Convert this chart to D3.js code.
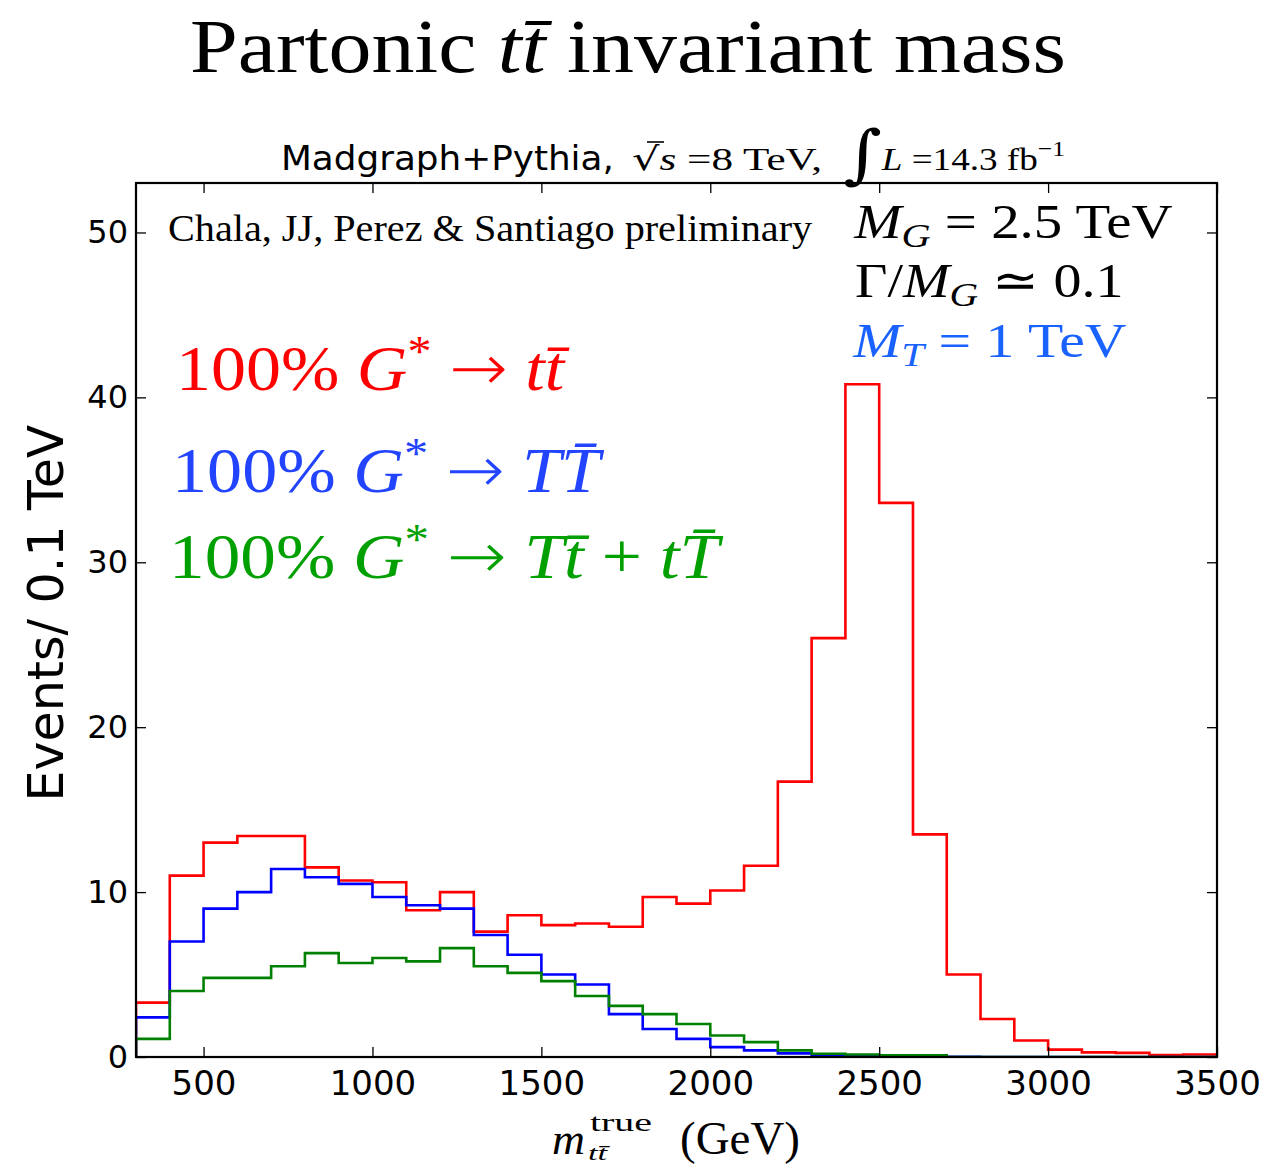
<!DOCTYPE html>
<html><head><meta charset="utf-8">
<script src="https://cdn.jsdelivr.net/npm/d3@7"></script>
<style>html,body{margin:0;padding:0;background:#fff;}svg{display:block;}</style>
</head><body>
<script>
// ---------- data ----------
const binEdges = [300,400,500,600,700,800,900,1000,1100,1200,1300,1400,1500,1600,1700,1800,1900,2000,2100,2200,2300,2400,2500,2600,2700,2800,2900,3000,3100,3200,3300,3400,3500];
const ttbar  = [3.3,11.0,13.0,13.4,13.4,11.5,10.7,10.6,8.9,10.0,7.6,8.6,8.0,8.1,7.9,9.7,9.3,10.1,11.6,16.7,25.4,40.8,33.6,13.5,5.0,2.3,1.0,0.45,0.28,0.25,0.12,0.15];
const TTbar  = [2.4,7.0,9.0,10.0,11.4,10.9,10.5,9.7,9.2,9.0,7.4,6.2,5.0,4.4,2.6,1.7,1.1,0.6,0.4,0.22,0.12,0.06,0.04,0.02,0.01,0,0,0,0,0,0,0];
const Ttmix  = [1.1,4.0,4.8,4.8,5.5,6.3,5.7,6.0,5.8,6.6,5.5,5.1,4.6,3.7,3.1,2.6,2.0,1.3,0.9,0.4,0.2,0.15,0.1,0.1,0,0,0,0,0,0,0,0];
const xTicks = [500,1000,1500,2000,2500,3000,3500];
const yTicks = [0,10,20,30,40,50];
const seriesColors = ["#ff0000","#0000ff","#008000"];

// ---------- setup ----------
const W = 1267, H = 1166;
const L = 136, R = 1217, T = 183, B = 1057;
const svg = d3.select("body").append("svg").attr("width", W).attr("height", H);
const x = d3.scaleLinear().domain([300,3500]).range([L,R]);
const y = d3.scaleLinear().domain([0,53]).range([B,T]);

svg.append("clipPath").attr("id","clip").append("rect")
  .attr("x",L).attr("y",T).attr("width",R-L).attr("height",B-T);

// ---------- histograms ----------
const line = d3.line().x(d=>x(d[0])).y(d=>y(d[1])).curve(d3.curveStepAfter);
function pts(vals){
  const p = [[binEdges[0],0]];
  vals.forEach((v,i)=>p.push([binEdges[i],v]));
  p.push([binEdges[binEdges.length-1], vals[vals.length-1]]);
  p.push([binEdges[binEdges.length-1], 0]);
  return p;
}
const g = svg.append("g").attr("clip-path","url(#clip)");
[ttbar, TTbar, Ttmix].forEach((vals,i)=>{
  g.append("path").attr("d", line(pts(vals))).attr("fill","none")
   .attr("stroke", seriesColors[i]).attr("stroke-width",2.6).attr("stroke-linejoin","miter");
});

// ---------- axes ----------
const tickFont = "DejaVu Sans, sans-serif";
const ax = svg.append("g").attr("transform",`translate(0,${B})`)
  .call(d3.axisBottom(x).tickValues(xTicks).tickSize(-10).tickPadding(14).tickFormat(d3.format("d")));
ax.selectAll("text").attr("font-family",tickFont).attr("font-size",34).attr("fill","#000");
const axT = svg.append("g").attr("transform",`translate(0,${T})`)
  .call(d3.axisTop(x).tickValues(xTicks).tickSize(-10).tickFormat(""));
const ay = svg.append("g").attr("transform",`translate(${L},0)`)
  .call(d3.axisLeft(y).tickValues(yTicks).tickSize(-10).tickPadding(8).tickFormat(d3.format("d")));
ay.selectAll("text").attr("font-family",tickFont).attr("font-size",32).attr("fill","#000");
const ayR = svg.append("g").attr("transform",`translate(${R},0)`)
  .call(d3.axisRight(y).tickValues(yTicks).tickSize(-10).tickFormat(""));
[ax,axT,ay,ayR].forEach(a=>{ a.select(".domain").remove(); a.selectAll(".tick line").attr("stroke","#000").attr("stroke-width",1.3); });

svg.append("rect").attr("x",L).attr("y",T).attr("width",R-L).attr("height",B-T)
  .attr("fill","none").attr("stroke","#000").attr("stroke-width",2.2);

// ---------- text helpers ----------
const SERIF = "Liberation Serif, Times New Roman, serif";
function mtext(parts, x0, x1, base, size, color, family){
  const t = svg.append("text").attr("x",0).attr("y",base)
    .attr("font-family", family||SERIF).attr("font-size",size).attr("fill",color||"#000");
  let shift = 0;
  parts.forEach(p=>{
    const s = p.shift||0;
    const ts = t.append("tspan").text(p.t).attr("dy", s-shift);
    shift = s;
    if(p.it) ts.attr("font-style","italic");
    if(p.size) ts.attr("font-size", p.size);
    if(p.fam) ts.attr("font-family", p.fam);
    if(p.w) ts.attr("font-weight", p.w);
  });
  const bb = t.node().getBBox();
  const sc = (x1-x0)/bb.width;
  t.attr("transform",`translate(${x0},0) scale(${sc},1) translate(${-bb.x},0)`);
  return t;
}
const ARROW = {t:"\u2192", fam:"DejaVu Sans", w:200};

// title
mtext([{t:"Partonic "},{t:"t",it:1},{t:"t\u0304",it:1},{t:" invariant mass"}], 190, 1066, 72, 76, "#000");

// subtitle
mtext([{t:"Madgraph+Pythia,"}], 281, 614, 170, 33, "#000", tickFont);
mtext([{t:"\u221A",fam:"DejaVu Sans"},{t:"s",it:1},{t:" =8 TeV,"}], 632, 822, 170, 32, "#000");
svg.append("line").attr("x1",647).attr("x2",664).attr("y1",142).attr("y2",142).attr("stroke","#000").attr("stroke-width",1.6);
mtext([{t:"\u222B",fam:"DejaVu Serif",size:64,it:1},{t:"L",it:1,shift:-6,size:32},{t:" =14.3 fb",shift:-6,size:32},{t:"\u22121",size:22,shift:-20}], 843, 1065, 176, 32, "#000");

// in-plot annotations
mtext([{t:"Chala, JJ, Perez & Santiago preliminary"}], 168, 813, 241, 37, "#000");
mtext([{t:"M",it:1},{t:"G",it:1,size:34,shift:9},{t:" = 2.5 TeV",shift:0}], 853, 1173, 238, 48, "#000");
mtext([{t:"\u0393/"},{t:"M",it:1},{t:"G",it:1,size:34,shift:9},{t:" \u2243 0.1",shift:0}], 855, 1123, 297, 48, "#000");
mtext([{t:"M",it:1},{t:"T",it:1,size:34,shift:9},{t:" = 1 TeV",shift:0}], 852, 1127, 357, 48, "#1a62ff");

// legend-like labels
mtext([{t:"100% "},{t:"G",it:1},{t:"*",size:44,shift:-24},{t:" ",shift:0},ARROW,{t:" "},{t:"t",it:1},{t:"t\u0304",it:1}], 176, 570, 390, 64, "#ff0000");
mtext([{t:"100% "},{t:"G",it:1},{t:"*",size:44,shift:-24},{t:" ",shift:0},ARROW,{t:" "},{t:"T",it:1},{t:"T\u0304",it:1}], 172, 605, 492, 64, "#2244ff");
mtext([{t:"100% "},{t:"G",it:1},{t:"*",size:44,shift:-24},{t:" ",shift:0},ARROW,{t:" "},{t:"T",it:1},{t:"t\u0304",it:1},{t:" + "},{t:"t",it:1},{t:"T\u0304",it:1}], 169, 724, 578, 64, "#00a000");

// axis labels
svg.append("text").attr("transform","translate(63,613) rotate(-90)").attr("text-anchor","middle")
  .attr("font-family",tickFont).attr("font-size",49).attr("fill","#000").text("Events/ 0.1 TeV");
mtext([{t:"m",it:1}], 552, 585, 1154, 44, "#000");
mtext([{t:"true"}], 590, 652, 1131, 26, "#000");
mtext([{t:"t",it:1},{t:"t\u0304",it:1}], 588, 610, 1160, 20, "#000");
mtext([{t:"(GeV)"}], 680, 800, 1154, 46, "#000");
</script>
</body></html>
